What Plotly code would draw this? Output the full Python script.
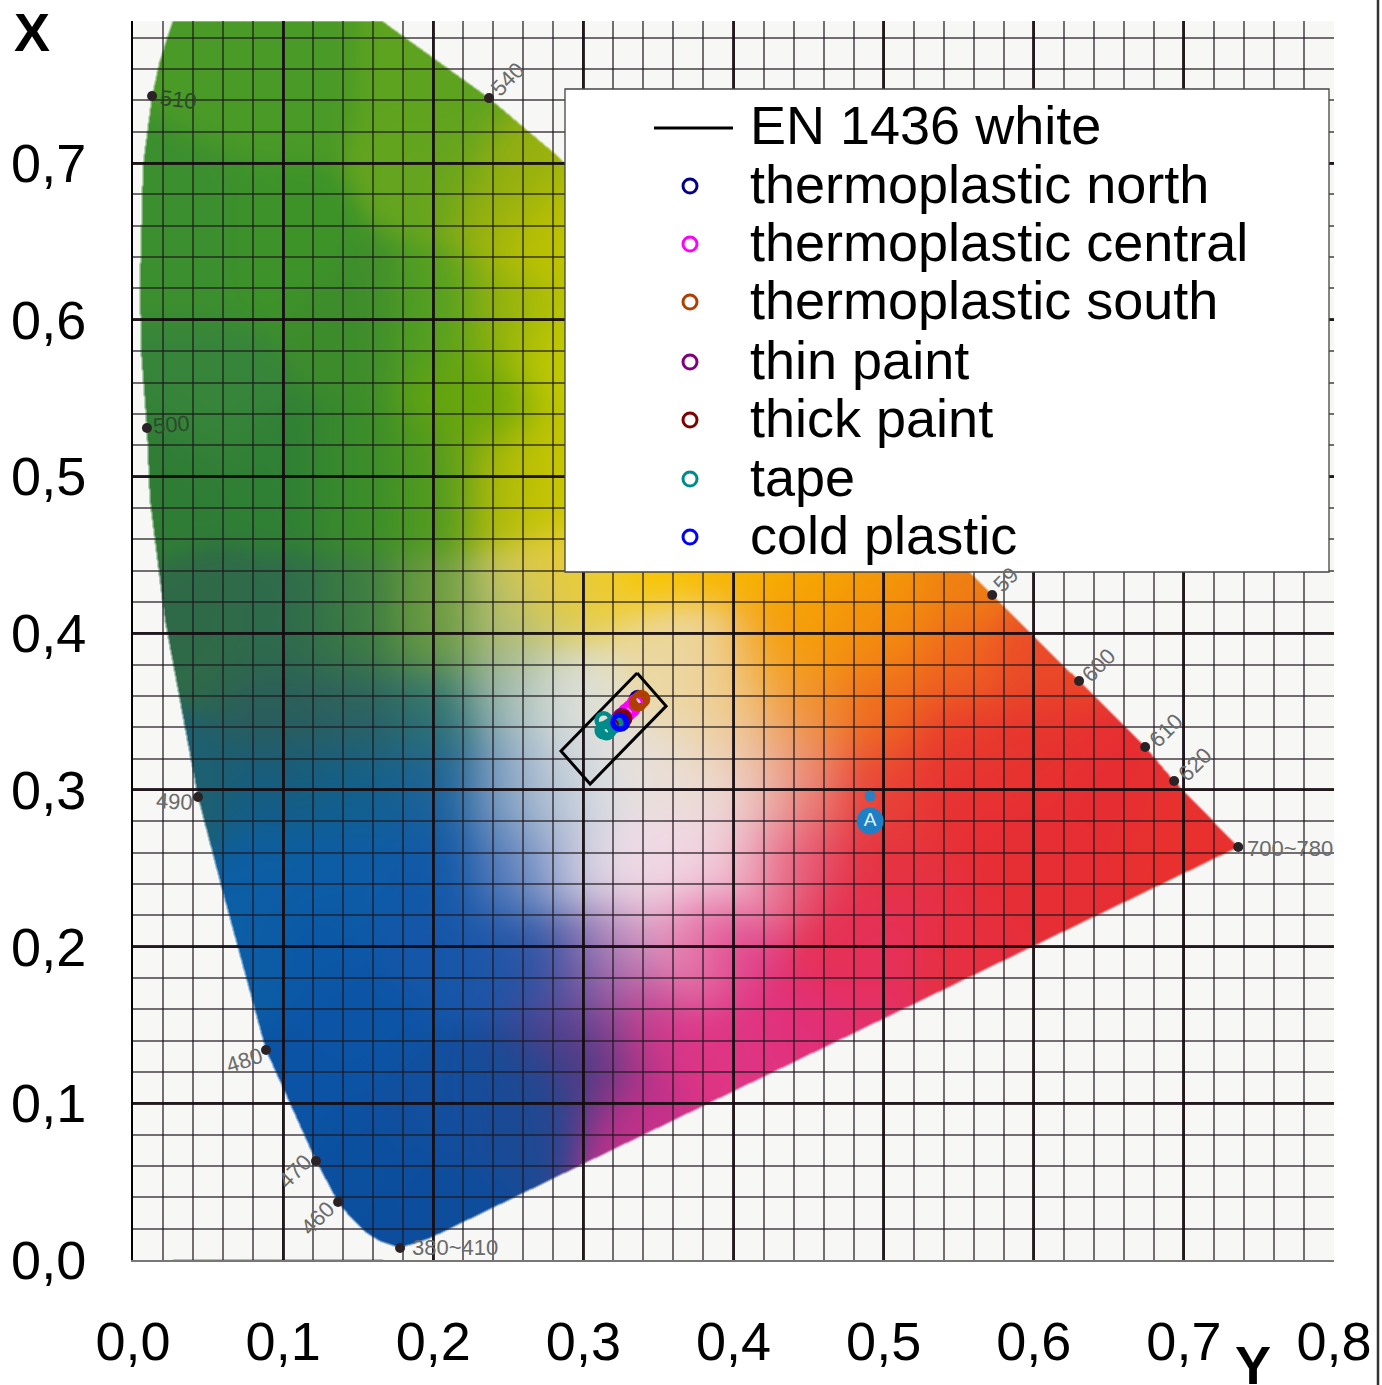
import base64, struct, zlib
import numpy as np
import plotly.graph_objects as go

FONT = "Liberation Sans, Arial, sans-serif"
X_TICKS = [0.0, 0.1, 0.2, 0.3, 0.4, 0.5, 0.6, 0.7, 0.8]
Y_TICKS = [0.0, 0.1, 0.2, 0.3, 0.4, 0.5, 0.6, 0.7]
X_MAX = 0.8
Y_MAX = 0.7907

# Standard box
BOX_X = [0.3358, 0.3551, 0.3045, 0.2851, 0.3358]
BOX_Y = [0.3746, 0.3535, 0.3038, 0.3248, 0.3746]

# Measurements
SERIES_NAMES = ["thermoplastic north", "thermoplastic central", "thermoplastic south",
                "thin paint", "thick paint", "tape", "cold plastic"]
SERIES_COLORS = ["#00008b", "#ff00ff", "#b04000", "#800080", "#800000", "#008b8b", "#0000ff"]
NORTH_X = [0.3364, 0.3250]
NORTH_Y = [0.3580, 0.3430]
CENTRAL_X = [0.3350, 0.3320, 0.3290, 0.3265, 0.3240, 0.3225]
CENTRAL_Y = [0.3555, 0.3520, 0.3495, 0.3465, 0.3445, 0.3430]
SOUTH_X = [0.3385, 0.3365]
SOUTH_Y = [0.3580, 0.3560]
THIN_X = [0.3255, 0.3220]
THIN_Y = [0.3465, 0.3430]
THICK_X = [0.3265, 0.3240]
THICK_Y = [0.3455, 0.3435]
TAPE_X = [0.3135, 0.3135, 0.3170, 0.3205, 0.3155]
TAPE_Y = [0.3445, 0.3380, 0.3395, 0.3420, 0.3375]
COLD_X = [0.3245, 0.3240]
COLD_Y = [0.3435, 0.3430]
SERIES_X = [NORTH_X, CENTRAL_X, SOUTH_X, THIN_X, THICK_X, TAPE_X, COLD_X]
SERIES_Y = [NORTH_Y, CENTRAL_Y, SOUTH_Y, THIN_Y, THICK_Y, TAPE_Y, COLD_Y]

# Spectral locus outline
LOCUS_X = [.1779, .1979, .7362, .6935, .6742, .6302, .5723, .2845, .2372, .2112, .1659, .1512, .0300, .0266,
           .0180, .0127, .0067, .0047, .0053, .0093, .0113, .0213, .0433, .0613, .0886, .1219, .1366, .1446, .1546, .1646]
LOCUS_Y = [.0077, .0140, .2636, .3057, .3274, .3695, .4244, .7032, .7415, .7594, .7907, .8009, .8009, .7907,
           .7658, .7428, .6988, .6254, .5807, .5310, .4850, .4084, .2955, .2297, .1340, .0632, .0370, .0275, .0179, .0120]

# Wavelength marks
WAVE_LABELS = ["510", "540", "500", "490", "480", "470", "460", "380~410", "59", "600", "610", "620", "700~780"]
WAVE_X = [.0127, .2372, .0093, .0433, .0886, .1219, .1366, .1779, .5723, .6302, .6742, .6935, .7362]
WAVE_Y = [.7428, .7415, .5310, .2955, .1340, .0632, .0370, .0077, .4244, .3695, .3274, .3057, .2636]
WAVE_DX = [26, 18, 25, -24, -22, -21, -21, 55, 14, 19, 21, 21, 52]
WAVE_DY = [-3, 19, 3, -5, -10, -11, -16, 0, 15, 16, 16, 16, -2]
WAVE_ROT = [6, -45, -5, 3, -18, -45, -45, 0, -45, -45, -45, -45, 0]
WAVE_COLORS = ["#2e4a2c", "#6a6a6a", "#2e4a2c"] + ["#6a6a6a"] * 10

# Colour at sample positions
SAMPLE_X = [.02, .1, .15, .2, .25, .28, .05, .1, .15, .2, .25, .28, .3, .35, .4, .1, .15, .2, .25, .28, .3, .35, .38, .42,
            .1, .15, .2, .25, .27, .28, .3, .35, .4, .43, .45, .1, .15, .2, .25, .27, .3, .35, .4, .43, .45, .45,
            .15, .2, .25, .28, .3, .32, .32, .37, .4, .5, .55, .1, .2, .27, .3, .3, .34, .4, .45, .25, .2, .33,
            .05, .1, .2, .1, .2, .25, .28, .05, .15, .2, .25, .28, .23, .03,
            .45, .5, .55, .5, .55, .6, .5, .55, .6, .5, .55, .65, .7, .6, .5, .47, .5, .55, .07, .12, .16,
            .4, .38, .43, .4, .45]
SAMPLE_Y = [.5, .5, .5, .5, .5, .5, .4, .4, .4, .4, .4, .42, .43, .45, .45, .35, .35, .35, .36, .36, .36, .38, .38, .38,
            .3, .3, .3, .3, .3, .3, .31, .32, .33, .33, .35, .25, .25, .25, .25, .25, .25, .25, .25, .25, .25, .3,
            .15, .2, .2, .19, .19, .18, .2, .2, .2, .2, .2, .1, .1, .1, .12, .15, .15, .13, .15, .1, .03, .09,
            .65, .65, .7, .75, .75, .68, .65, .55, .6, .6, .6, .58, .55, .3,
            .45, .44, .43, .4, .38, .38, .35, .33, .33, .3, .3, .3, .28, .25, .25, .2, .15, .17, .2, .2, .05,
            .3, .36, .3, .36, .4]
SAMPLE_HEX = ["#2f7d35", "#2f7f35", "#3a8c2a", "#4f9a20", "#aeb90a", "#ccc900", "#2f6a48", "#2e6b4c", "#3b7c42", "#6c9c3e",
              "#aebb6e", "#d8c95a", "#f1cd2a", "#f8c400", "#f7b400", "#2b5d5a", "#2d6060", "#2c7070", "#8fb0ae", "#d3dcd7",
              "#e4e3da", "#ead79a", "#ecd9a8", "#f59d10", "#155d80", "#12608c", "#1b6298", "#5a84b4", "#a8bcd0", "#ccd4dc", "#e3e3e5",
              "#e8dfd8", "#ecd5b8", "#ee9f6a", "#f08a28", "#0c5ea5", "#0d5ca8", "#1058a8", "#3a6ab2", "#90a0cc", "#e8dfe8",
              "#f0d9e4", "#f2d4e0", "#e87fa0", "#e53a55", "#e85a50", "#0b54a6", "#1556a8", "#1f55a8", "#24519f", "#5e4fa2", "#b65aa0",
              "#e8c0d8", "#e88ab5", "#df3a86", "#e6305e", "#e62f3e", "#0b53a4", "#124f9e", "#1f4890", "#4a3a80", "#523f8e", "#d83588", "#de3584",
              "#e2307a", "#174b98", "#0e4c9c", "#c8308a", "#3c8f2e", "#3d9328", "#64a41e", "#4a9a27", "#5da31f",
              "#94af10", "#c2c400", "#37853a", "#3d8c2c", "#53a022", "#90b00f", "#c9cc00", "#65a50a", "#1d6070",
              "#f6a800", "#f49a05", "#ef7f12", "#f38a10", "#ef6320", "#ea4a28", "#ef6a1e", "#e83c2c", "#e6322f", "#e94236",
              "#e72f34", "#e62e32", "#e8312f", "#e62e35", "#e43240", "#e5304f", "#e4306a", "#e53040",
              "#0c5ea5", "#0b58a6", "#0b4f9f", "#ecdfe0", "#ecd9a8", "#ebc0c0", "#f1c47a", "#f59d08"]

# Reference mark "A"
A_X = [0.491]
A_Y = [0.2802]
A_DOT_X = [0.491]
A_DOT_Y = [0.2961]

W, H, L, T = 1382, 1385, 133, 21
PW, PH = 1201, 1239


def build_background():
    gw, gh = 300, 310
    gx = (np.arange(gw) + .5) / gw * X_MAX
    gy = Y_MAX - (np.arange(gh) + .5) / gh * Y_MAX
    xx, yy = np.meshgrid(gx, gy)
    rgb = np.array([[int(c[i:i + 2], 16) for i in (1, 3, 5)] for c in SAMPLE_HEX], float)
    sx, sy = np.array(SAMPLE_X), np.array(SAMPLE_Y)
    d2 = (xx[..., None] - sx) ** 2 + (yy[..., None] - sy) ** 2
    wt = np.exp(-d2 / (2 * 0.022 ** 2)) + 1e-14
    col = (wt[..., None] * rgb).sum(2) / wt.sum(2)[..., None]
    fw, fh = PW, PH
    fx = (np.arange(fw) + .5) / fw * X_MAX
    fy = Y_MAX - (np.arange(fh) + .5) / fh * Y_MAX
    out = np.zeros((fh, fw, 3))
    for ch in range(3):
        tmp = np.array([np.interp(fx, gx, col[r, :, ch]) for r in range(gh)])
        for c in range(fw):
            out[:, c, ch] = np.interp(-fy, -gy, tmp[:, c])
    X, Y = np.meshgrid(fx, fy)
    lx, ly = np.array(LOCUS_X), np.array(LOCUS_Y)
    inside = np.zeros(X.shape, bool)
    for i in range(len(lx)):
        j = (i - 1) % len(lx)
        cond = (ly[i] > Y) != (ly[j] > Y)
        xint = (lx[j] - lx[i]) * (Y - ly[i]) / (ly[j] - ly[i]) + lx[i]
        inside ^= cond & (X < xint)
    m = inside.astype(float)
    for ax in (0, 1):
        m = (np.roll(m, 1, ax) + m + np.roll(m, -1, ax)) / 3
    bg = np.array([247, 247, 245.])
    img = (out * m[..., None] + bg * (1 - m[..., None])).round().astype(np.uint8)
    raw = b"".join(b"\x00" + img[r].tobytes() for r in range(fh))

    def chunk(t, d):
        return struct.pack(">I", len(d)) + t + d + struct.pack(">I", zlib.crc32(t + d) & 0xffffffff)
    png = b"\x89PNG\r\n\x1a\n" + chunk(b"IHDR", struct.pack(">IIBBBBB", fw, fh, 8, 2, 0, 0, 0)) \
        + chunk(b"IDAT", zlib.compress(raw, 9)) + chunk(b"IEND", b"")
    return "data:image/png;base64," + base64.b64encode(png).decode()


def px(v):
    return (v - L) / PW


def py(v):
    return 1 - (v - T) / PH


fig = go.Figure()
fig.add_trace(go.Scatter(x=WAVE_X, y=WAVE_Y, mode="markers", name="wavelength", showlegend=False,
                         marker=dict(color="#2b2226", size=10), hoverinfo="skip"))
fig.add_trace(go.Scatter(x=A_DOT_X, y=A_DOT_Y, mode="markers", showlegend=False, marker=dict(color="#2a80c0", size=11)))
fig.add_trace(go.Scatter(x=A_X, y=A_Y, mode="markers+text", text=["A"], textposition="middle center", showlegend=False,
                         textfont=dict(family=FONT, size=19, color="#e8f2fa"), marker=dict(color="#1f7fc4", size=27)))
fig.add_trace(go.Scatter(x=BOX_X, y=BOX_Y, mode="lines", name="EN 1436 white", showlegend=False,
                         line=dict(color="black", width=3)))
for name, color, xs, ys in zip(SERIES_NAMES, SERIES_COLORS, SERIES_X, SERIES_Y):
    fig.add_trace(go.Scatter(x=xs, y=ys, mode="markers", name=name, showlegend=False,
                             marker=dict(symbol="circle-open", size=14, color=color, line=dict(width=4.5, color=color))))

annotations = []
for lab, x, y, dx, dy, rot, col in zip(WAVE_LABELS, WAVE_X, WAVE_Y, WAVE_DX, WAVE_DY, WAVE_ROT, WAVE_COLORS):
    annotations.append(dict(x=x, y=y, xref="x", yref="y", text=lab, showarrow=False, xshift=dx, yshift=dy, textangle=rot,
                            font=dict(family=FONT, size=22, color=col)))
annotations.append(dict(x=px(32), y=py(32), xref="paper", yref="paper", text="<b>X</b>", showarrow=False,
                        xanchor="center", yanchor="middle", font=dict(family=FONT, size=54, color="black")))
annotations.append(dict(x=px(1253), y=py(1365), xref="paper", yref="paper", text="<b>Y</b>", showarrow=False,
                        xanchor="center", yanchor="middle", font=dict(family=FONT, size=54, color="black")))

LEGEND_LABELS = ["EN 1436 white"] + SERIES_NAMES
LEGEND_ROWS = [125, 184, 242, 300, 360, 418, 477, 535]
shapes = [
    dict(type="rect", xref="paper", yref="paper", x0=px(565), x1=px(1329), y0=py(572), y1=py(89),
         fillcolor="white", line=dict(color="#444444", width=1.3), layer="above"),
    dict(type="line", xref="paper", yref="paper", x0=px(1378), x1=px(1378), y0=py(0), y1=py(1385),
         line=dict(color="#333333", width=2.5), layer="above"),
    dict(type="line", xref="paper", yref="paper", x0=px(654), x1=px(733), y0=py(128), y1=py(128),
         line=dict(color="black", width=3), layer="above"),
]
for lab, row in zip(LEGEND_LABELS, LEGEND_ROWS):
    annotations.append(dict(x=px(748), y=py(row), xref="paper", yref="paper", text=lab, showarrow=False,
                            xanchor="left", yanchor="middle", font=dict(family=FONT, size=54, color="black")))
for color, row in zip(SERIES_COLORS, LEGEND_ROWS[1:]):
    shapes.append(dict(type="circle", xref="paper", yref="paper", x0=px(690 - 7), x1=px(690 + 7), y0=py(row + 9), y1=py(row - 5),
                       fillcolor="white", line=dict(color=color, width=3), layer="above"))

grid_major = "rgba(20,10,15,0.85)"
grid_minor = "rgba(30,25,30,0.62)"
axis_common = dict(
    tickformat=".1f", ticks="", showline=True, zeroline=False, showgrid=True, automargin=False,
    gridcolor=grid_major, gridwidth=2.6,
    tickfont=dict(family=FONT, size=54, color="black"),
    tick0=0, dtick=0.1,
    minor=dict(tick0=0, dtick=0.02, showgrid=True, gridcolor=grid_minor, gridwidth=1.8, ticks=""),
)
fig.update_layout(
    width=W, height=H, autosize=False, separators=", ",
    margin=dict(l=L, r=W - L - PW, t=T, b=H - T - PH, pad=0),
    paper_bgcolor="white", plot_bgcolor="#f7f7f5", showlegend=False,
    xaxis=dict(range=[0, X_MAX], tickvals=X_TICKS, ticklabelstandoff=33, linecolor="#777777", linewidth=2, **axis_common),
    yaxis=dict(range=[0, Y_MAX], tickvals=Y_TICKS, ticklabelstandoff=34, linecolor="black", linewidth=2, **axis_common),
    images=[dict(source=build_background(), xref="x", yref="y", x=0, y=Y_MAX, sizex=X_MAX, sizey=Y_MAX,
                 xanchor="left", yanchor="top", sizing="stretch", layer="below")],
    shapes=shapes, annotations=annotations,
)
fig.write_html("out.html", config={"displayModeBar": False}, post_script="document.body.style.margin='0';")
